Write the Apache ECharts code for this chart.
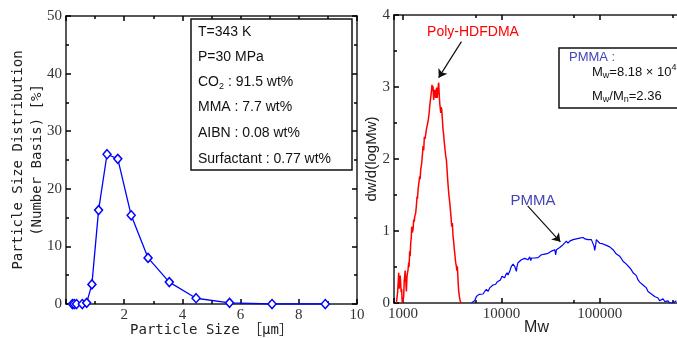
<!DOCTYPE html>
<html>
<head>
<meta charset="utf-8">
<script src="https://cdn.jsdelivr.net/npm/echarts@6/dist/echarts.min.js"></script>
<style>
  html, body { margin: 0; padding: 0; background: #fff; }
  #chart { width: 677px; height: 338px; }
</style>
</head>
<body>
<div id="chart"></div>
<script>
// left panel: particle size distribution
const sizes = [0.22, 0.28, 0.36, 0.56, 0.71, 0.89, 1.12, 1.41, 1.78, 2.24, 2.82, 3.55, 4.47, 5.62, 7.08, 8.91]
const sizePct = [0, 0, 0, 0, 0.2, 3.4, 16.3, 26.0, 25.2, 15.4, 8.0, 3.8, 1.0, 0.2, 0, 0]

// right panel: molecular weight distributions
const hdfdmaMw = [854, 880, 902, 912, 923, 935, 945, 956, 968, 975, 983, 1000, 1014, 1026, 1038, 1050, 1063, 1080, 1096, 1110,
  1122, 1140, 1150, 1167, 1180, 1195, 1210, 1223, 1240, 1262, 1282, 1300, 1312, 1343, 1365, 1387, 1400, 1419, 1450, 1476,
  1490, 1510, 1546, 1570, 1596, 1620, 1645, 1670, 1698, 1720, 1750, 1780, 1806, 1835, 1865, 1890, 1923, 1945, 1968, 1990,
  2017, 2030, 2047, 2070, 2096, 2120, 2147, 2170, 2198, 2220, 2249, 2280, 2302, 2330, 2357, 2390, 2413, 2440, 2470, 2510,
  2547, 2580, 2608, 2640, 2670, 2710, 2755, 2800, 2843, 2890, 2933, 2980, 3026, 3070, 3122, 3171, 3220, 3270, 3322, 3360,
  3401, 3440, 3482, 3520, 3565, 3610, 3650, 3690, 3737, 3780, 3826, 3917]
const hdfdmaW = [0, 0.15, 0.42, 0.2, 0.28, 0.38, 0.37, 0.15, 0.19, 0.05, 0, 0, 0.09, 0.3, 0.32, 0.45, 0.32, 0.16, 0.37, 0.42,
  0.46, 0.56, 0.5, 0.72, 0.65, 0.83, 0.9, 1.06, 0.98, 1.02, 1.16, 1.13, 1.2, 1.25, 1.35, 1.48, 1.45, 1.57, 1.68, 1.76,
  1.72, 1.85, 1.94, 2.05, 2.18, 2.12, 2.31, 2.28, 2.34, 2.4, 2.45, 2.5, 2.55, 2.62, 2.73, 2.8, 2.89, 2.95, 3.03, 2.95,
  3.01, 2.9, 2.82, 2.92, 2.96, 2.88, 2.85, 2.95, 2.99, 2.85, 2.92, 3.02, 3.06, 2.9, 2.78, 2.7, 2.64, 2.72, 2.69, 2.55,
  2.41, 2.35, 2.27, 2.2, 2.13, 2.05, 1.99, 1.85, 1.71, 1.58, 1.48, 1.4, 1.3, 1.2, 1.06, 1.11, 0.93, 0.85, 0.74, 0.68,
  0.6, 0.55, 0.51, 0.45, 0.51, 0.35, 0.23, 0.15, 0.09, 0.05, 0.02, 0]

const pmmaMw = [4949, 5350, 5564, 5785, 5922, 6111, 6504, 6762, 7032, 7311, 7603, 7906, 8222, 8414, 8750, 9028, 9460, 9761,
  10149, 10554, 10804, 11058, 11410, 11680, 12146, 12630, 13134, 13658, 14202, 14425, 14768, 15357, 15969, 16607, 17269,
  17958, 18673, 19417, 19877, 20335, 20980, 21818, 22688, 23592, 24533, 25512, 26527, 27585, 28686, 29824, 31014, 32249,
  33534, 34872, 35699, 36263, 37702, 39205, 40738, 42364, 44046, 45802, 47621, 49522, 51500, 53550, 55686, 57896, 60200,
  62604, 65100, 67685, 69290, 70937, 73193, 76096, 79129, 82285, 85550, 87565, 88947, 91057, 92495, 96162, 100000,
  103990, 108130, 112450, 116930, 121570, 126400, 131450, 136660, 142110, 147780, 153640, 159770, 166110, 172720,
  179630, 186770, 194200, 201950, 210000, 218330, 227040, 236050, 245470, 255270, 265440, 275960, 286970, 298430,
  310170, 322600, 335410, 348700, 362600, 377100, 392100, 407700, 424000, 440900, 458400, 476700, 495600, 515400,
  557200, 579400, 602600]
const pmmaW = [0, 0.03, 0.09, 0.07, 0.12, 0.14, 0.125, 0.16, 0.19, 0.16, 0.21, 0.23, 0.25, 0.23, 0.26, 0.29, 0.29, 0.32,
  0.37, 0.39, 0.35, 0.39, 0.42, 0.39, 0.44, 0.51, 0.54, 0.51, 0.44, 0.51, 0.56, 0.58, 0.6, 0.59, 0.62,
  0.625, 0.6, 0.64, 0.59, 0.625, 0.65, 0.625, 0.62, 0.63, 0.65, 0.67, 0.65, 0.68, 0.67, 0.69, 0.68, 0.72,
  0.71, 0.74, 0.67, 0.74, 0.76, 0.77, 0.79, 0.81, 0.82, 0.86, 0.83, 0.86, 0.87, 0.88, 0.86, 0.89, 0.88,
  0.9, 0.88, 0.91, 0.935, 0.89, 0.91, 0.88, 0.9, 0.88, 0.86, 0.79, 0.73, 0.81, 0.88, 0.87, 0.83,
  0.83, 0.82, 0.8, 0.8, 0.79, 0.78, 0.755, 0.74, 0.72, 0.68, 0.69, 0.65, 0.625, 0.58,
  0.56, 0.54, 0.52, 0.49, 0.46, 0.42, 0.4, 0.38, 0.32, 0.29, 0.28, 0.25, 0.23, 0.21,
  0.16, 0.14, 0.125, 0.12, 0.09, 0.11, 0.07, 0.03, 0.03, 0.06, 0.02, 0.01, 0.03, 0,
  0, 0, 0.03]

const leftTicksX = { min: 0, max: 10, interval: 2 }
const leftTicksY = { min: 0, max: 50, interval: 10 }
const rightTicksX = { min: 808, max: 1000000 }
const rightTicksY = { min: 0, max: 4, interval: 1 }

const zip = (xs, ys) => xs.map((x, i) => [x, ys[i]])

const SERIF = '"Liberation Serif", "Times New Roman", serif'
const SANS = '"Liberation Sans", Arial, sans-serif'
const MONO = '"DejaVu Sans Mono", "Noto Sans CJK JP", monospace'

const frameLine = { show: true, onZero: false, lineStyle: { color: '#222', width: 1.5 } }
const tickIn = { show: true, inside: true, length: 5, lineStyle: { color: '#000', width: 1.5 } }
const minorIn = { show: true, splitNumber: 2, length: 3, lineStyle: { color: '#000', width: 1.5 } }
const tickLabel = { margin: 4, color: '#333', fontFamily: SERIF, fontSize: 15 }

function mirrorAxis(base) {
  return Object.assign({
    axisLine: frameLine,
    axisTick: tickIn,
    minorTick: minorIn,
    axisLabel: { show: false },
    splitLine: { show: false }
  }, base)
}

const chart = echarts.init(document.getElementById('chart'), null, { renderer: 'canvas' })

chart.setOption({
  animation: false,
  backgroundColor: '#fff',
  grid: [
    { left: 66, right: 320, top: 16, bottom: 34, outerBoundsMode: 'none' },
    { left: 394, right: -21, top: 15, bottom: 35, outerBoundsMode: 'none' }
  ],
  xAxis: [
    {
      gridIndex: 0, type: 'value', ...leftTicksX,
      axisLine: frameLine, axisTick: tickIn, minorTick: minorIn,
      splitLine: { show: false },
      axisLabel: { ...tickLabel, showMinLabel: false },
      name: 'Particle Size ［μm］', nameLocation: 'middle', nameGap: 19, nameMoveOverlap: false,
      nameTextStyle: { color: '#222', fontFamily: MONO, fontSize: 14 }
    },
    mirrorAxis({ gridIndex: 0, type: 'value', position: 'top', ...leftTicksX }),
    {
      gridIndex: 1, type: 'log', logBase: 10, ...rightTicksX,
      axisLine: frameLine, axisTick: tickIn, minorTick: minorIn,
      splitLine: { show: false },
      axisLabel: { ...tickLabel, showMinLabel: false, showMaxLabel: false, formatter: (v) => String(Math.round(v)) },
      name: 'Mw', nameLocation: 'middle', nameGap: 17, nameMoveOverlap: false,
      nameTextStyle: { color: '#222', fontFamily: SANS, fontSize: 16, padding: [0, 19, 0, 0] }
    },
    mirrorAxis({ gridIndex: 1, type: 'log', logBase: 10, position: 'top', ...rightTicksX })
  ],
  yAxis: [
    {
      gridIndex: 0, type: 'value', ...leftTicksY,
      axisLine: frameLine, axisTick: tickIn, minorTick: minorIn,
      splitLine: { show: false },
      axisLabel: tickLabel,
      name: 'Particle Size Distribution\n(Number Basis) [%]', nameLocation: 'middle', nameGap: 19, nameMoveOverlap: false,
      nameTextStyle: { color: '#222', fontFamily: MONO, fontSize: 14, lineHeight: 19 }
    },
    mirrorAxis({ gridIndex: 0, type: 'value', position: 'right', ...leftTicksY }),
    {
      gridIndex: 1, type: 'value', ...rightTicksY,
      axisLine: frameLine, axisTick: tickIn, minorTick: minorIn,
      splitLine: { show: false },
      axisLabel: tickLabel,
      name: 'dw/d(logMw)', nameLocation: 'middle', nameGap: 15, nameMoveOverlap: false,
      nameTextStyle: { color: '#222', fontFamily: SANS, fontSize: 15 }
    },
    mirrorAxis({ gridIndex: 1, type: 'value', position: 'right', ...rightTicksY })
  ],
  series: [
    {
      name: 'size', type: 'line', xAxisIndex: 0, yAxisIndex: 0,
      data: zip(sizes, sizePct),
      symbol: 'diamond', symbolSize: [8, 9],
      lineStyle: { color: '#0000ff', width: 1.3 },
      itemStyle: { color: '#fff', borderColor: '#0000ff', borderWidth: 1.5 },
      z: 5
    },
    {
      name: 'Poly-HDFDMA', type: 'line', xAxisIndex: 2, yAxisIndex: 2,
      data: zip(hdfdmaMw, hdfdmaW),
      showSymbol: false,
      lineStyle: { color: '#ff0000', width: 1.5 },
      markLine: {
        silent: true, symbol: ['none', 'arrow'], symbolSize: 8,
        label: { show: false },
        lineStyle: { color: '#111', width: 1.2, type: 'solid' },
        data: [
          [{ coord: [3920, 3.63] }, { coord: [2300, 3.13] }],
          [{ coord: [18500, 1.35] }, { coord: [39800, 0.85] }]
        ]
      }
    },
    {
      name: 'PMMA', type: 'line', xAxisIndex: 2, yAxisIndex: 2,
      data: zip(pmmaMw, pmmaW),
      showSymbol: false,
      lineStyle: { color: '#0000ff', width: 1.2 }
    }
  ],
  graphic: [
    {
      type: 'rect', shape: { x: 191, y: 19, width: 161, height: 151 }, z: 10,
      style: { fill: '#fff', stroke: '#111', lineWidth: 1.5 }
    },
    ...[
      { y: 32, t: '{a|T=343 K}' },
      { y: 57, t: '{a|P=30 MPa}' },
      { y: 82, t: '{a|CO}{s|2}{a| : 91.5 wt%}' },
      { y: 107, t: '{a|MMA : 7.7 wt%}' },
      { y: 133, t: '{a|AIBN : 0.08 wt%}' },
      { y: 159, t: '{a|Surfactant : 0.77 wt%}' }
    ].map((r) => ({
      type: 'text', x: 198, y: r.y, z: 11,
      style: {
        text: r.t, fill: '#111', align: 'left', verticalAlign: 'middle',
        rich: {
          a: { fontFamily: SANS, fontSize: 14, lineHeight: 18, fill: '#111' },
          s: { fontFamily: SANS, fontSize: 9, verticalAlign: 'bottom', fill: '#111' }
        }
      }
    })),
    {
      type: 'text', x: 473, y: 32, z: 11,
      style: { text: 'Poly-HDFDMA', fill: '#ff0000', font: '14px ' + SANS, align: 'center', verticalAlign: 'middle' }
    },
    {
      type: 'text', x: 533, y: 201, z: 11,
      style: { text: 'PMMA', fill: '#4444b4', font: '15px ' + SANS, align: 'center', verticalAlign: 'middle' }
    },
    {
      type: 'rect', shape: { x: 559, y: 48, width: 140, height: 60 }, z: 10,
      style: { fill: '#fff', stroke: '#111', lineWidth: 1.5 }
    },
    {
      type: 'text', x: 569, y: 57, z: 11,
      style: { text: 'PMMA :', fill: '#4444b4', font: '13px ' + SANS, align: 'left', verticalAlign: 'middle' }
    },
    {
      type: 'text', x: 592, y: 72, z: 11,
      style: {
        text: '{a|M}{s|w}{a|=8.18 × 10}{p|4}', align: 'left', verticalAlign: 'middle',
        rich: {
          a: { fontFamily: SANS, fontSize: 13, lineHeight: 17, fill: '#111' },
          s: { fontFamily: SANS, fontSize: 9, verticalAlign: 'bottom', fill: '#111' },
          p: { fontFamily: SANS, fontSize: 9, verticalAlign: 'top', fill: '#111' }
        }
      }
    },
    {
      type: 'text', x: 592, y: 96, z: 11,
      style: {
        text: '{a|M}{s|w}{a|/M}{s|n}{a|=2.36}', align: 'left', verticalAlign: 'middle',
        rich: {
          a: { fontFamily: SANS, fontSize: 13, lineHeight: 17, fill: '#111' },
          s: { fontFamily: SANS, fontSize: 9, verticalAlign: 'bottom', fill: '#111' }
        }
      }
    }
  ]
})
</script>
</body>
</html>
